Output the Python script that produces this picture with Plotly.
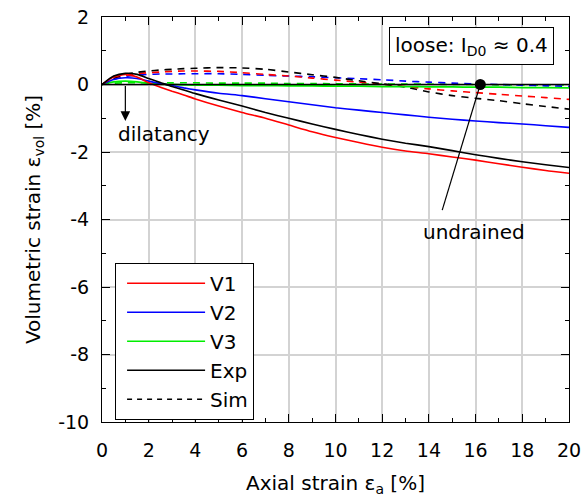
import plotly.graph_objects as go

# ---- data ----
x_grid = [0, 0.5, 1, 1.5, 2, 2.5, 3, 3.5, 4, 5, 6, 7, 8, 9, 10, 11, 12, 13, 14, 15, 16, 17, 18, 19, 20]

v1_exp = [0, 0.22, 0.30, 0.22, 0.05, -0.08, -0.20, -0.31, -0.43, -0.64, -0.83, -1.00, -1.20, -1.40, -1.57, -1.72, -1.86, -1.97, -2.05, -2.15, -2.24, -2.35, -2.45, -2.55, -2.63]
v2_exp = [0, 0.15, 0.20, 0.18, 0.10, 0.03, -0.03, -0.10, -0.16, -0.26, -0.33, -0.42, -0.51, -0.60, -0.69, -0.76, -0.83, -0.90, -0.97, -1.03, -1.08, -1.13, -1.17, -1.22, -1.27]
v3_exp = [0, 0.08, 0.10, 0.08, 0.03, 0.01, 0.0, -0.01, -0.02, -0.02, -0.03, -0.03, -0.04, -0.04, -0.05, -0.05, -0.06, -0.06, -0.07, -0.07, -0.08, -0.08, -0.09, -0.09, -0.10]
avg_exp = [0, 0.25, 0.33, 0.30, 0.18, 0.06, -0.06, -0.16, -0.27, -0.46, -0.64, -0.83, -1.00, -1.17, -1.33, -1.48, -1.62, -1.74, -1.84, -1.96, -2.08, -2.19, -2.29, -2.38, -2.46]

v1_sim = [0, 0.17, 0.27, 0.32, 0.35, 0.37, 0.39, 0.40, 0.40, 0.39, 0.35, 0.30, 0.25, 0.19, 0.13, 0.07, 0.01, -0.06, -0.13, -0.19, -0.24, -0.29, -0.34, -0.39, -0.44]
v2_sim = [0, 0.15, 0.24, 0.28, 0.30, 0.31, 0.31, 0.32, 0.32, 0.32, 0.30, 0.27, 0.25, 0.23, 0.20, 0.17, 0.14, 0.10, 0.07, 0.04, 0.02, 0.00, -0.02, -0.04, -0.05]
v3_sim = [0, 0.04, 0.05, 0.05, 0.05, 0.05, 0.05, 0.05, 0.05, 0.04, 0.04, 0.04, 0.03, 0.03, 0.02, 0.02, 0.01, 0.01, 0.01, 0.0, 0.0, -0.01, -0.01, -0.02, -0.02]
avg_sim = [0, 0.18, 0.30, 0.36, 0.40, 0.43, 0.45, 0.47, 0.48, 0.50, 0.49, 0.45, 0.37, 0.29, 0.21, 0.11, 0.02, -0.08, -0.22, -0.33, -0.41, -0.48, -0.57, -0.65, -0.73]

undrained_x = [0, 20]
undrained_y = [0, 0]
undrained_point = (16.2, 0.0)

series_names = ["V1", "V2", "V3", "Exp", "Sim"]
colors = {"V1": "#ff0000", "V2": "#0000ff", "V3": "#00ee00", "Exp": "#000000"}

x_ticks = list(range(0, 21, 2))
x_ticktext = [str(v) for v in x_ticks]
y_ticks = list(range(-10, 3, 2))
y_ticktext = [str(v) for v in y_ticks]   # plain hyphen-minus as in the reference

FONT = "DejaVu Sans, Liberation Sans, Arial, sans-serif"

fig = go.Figure()

def add_line(y, color, dash, width=1.6):
    fig.add_trace(go.Scatter(x=x_grid, y=y, mode="lines", showlegend=False,
                             line=dict(color=color, dash=dash, width=width, shape="spline", smoothing=0.6)))

# simulations (dashed)
add_line(v3_sim, colors["V3"], "7px,6px")
add_line(v2_sim, colors["V2"], "7px,6px")
add_line(v1_sim, colors["V1"], "7px,6px")
add_line(avg_sim, "#000000", "7px,6px")
# experiments (solid)
add_line(v3_exp, colors["V3"], "solid", 1.8)
add_line(v2_exp, colors["V2"], "solid")
add_line(v1_exp, colors["V1"], "solid")
add_line(avg_exp, "#000000", "solid")

# undrained reference line and point
fig.add_trace(go.Scatter(x=undrained_x, y=undrained_y, mode="lines", showlegend=False,
                         line=dict(color="#000000", width=1.5)))
fig.add_trace(go.Scatter(x=[undrained_point[0]], y=[undrained_point[1]], mode="markers", showlegend=False,
                         marker=dict(color="#000000", size=11)))

# legend entries
for name in series_names[:4]:
    fig.add_trace(go.Scatter(x=[None], y=[None], mode="lines", name=name,
                             line=dict(color=colors[name], width=1.5)))
fig.add_trace(go.Scatter(x=[None], y=[None], mode="lines", name="Sim",
                         line=dict(color="#000000", width=1.5, dash="5px,5px")))

axis_common = dict(showline=True, linecolor="black", linewidth=1, mirror="allticks",
                   ticks="inside", ticklen=8, tickcolor="black", tickwidth=1,
                   showgrid=True, gridcolor="#d3d3d3", gridwidth=1.5, zeroline=False,
                   automargin=False, ticklabeloverflow="allow",
                   tickfont=dict(size=19, color="black", family=FONT),
                   minor=dict(ticks="inside", ticklen=4, tickcolor="black", dtick=1, showgrid=False))

fig.update_xaxes(range=[0, 20], tickvals=x_ticks, ticktext=x_ticktext, ticklabelstandoff=11, **axis_common,
                 title=dict(text="Axial strain ε<sub>a</sub> [%]", font=dict(size=20, family=FONT, color="black"), standoff=16))
fig.update_yaxes(range=[-10, 2], tickvals=y_ticks, ticktext=y_ticktext, ticklabelstandoff=8, **axis_common,
                 title=dict(text="Volumetric strain ε<sub>vol</sub> [%]", font=dict(size=20, family=FONT, color="black"), standoff=12))

# dilatancy arrow
fig.add_annotation(x=1, y=-1.08, ax=1, ay=0, axref="x", ayref="y", xref="x", yref="y",
                   text="", showarrow=True, arrowhead=2, arrowsize=1.6, arrowwidth=1.2, arrowcolor="black")
fig.add_annotation(x=2.65, y=-1.47, text="dilatancy", showarrow=False,
                   font=dict(size=20, family=FONT, color="black"))

# undrained pointer
fig.add_shape(type="line", x0=undrained_point[0], y0=undrained_point[1], x1=14.57, y1=-3.72,
              xref="x", yref="y", line=dict(color="black", width=1.2))
fig.add_annotation(x=15.94, y=-4.36, text="undrained", showarrow=False,
                   font=dict(size=20, family=FONT, color="black"))

# density box
fig.add_annotation(x=15.83, y=1.14, text="loose: I<sub>D0</sub> ≈ 0.4", showarrow=False,
                   font=dict(size=20, family=FONT, color="black"),
                   bordercolor="black", borderwidth=1, borderpad=5, bgcolor="white")

fig.update_layout(
    width=584, height=500,
    margin=dict(l=102, r=15, t=17, b=78),
    plot_bgcolor="white", paper_bgcolor="white",
    font=dict(family=FONT, color="black"),
    legend=dict(x=0.028, y=0.393, xanchor="left", yanchor="top",
                bordercolor="black", borderwidth=1, bgcolor="white",
                font=dict(size=20, family=FONT, color="black"),
                itemwidth=78, indentation=6, tracegroupgap=0),
)

# remove the default page margin so the 584x500 figure fills the window exactly
fig.write_html("out.html", config={"displayModeBar": False},
               post_script="document.body.style.margin='0';")
